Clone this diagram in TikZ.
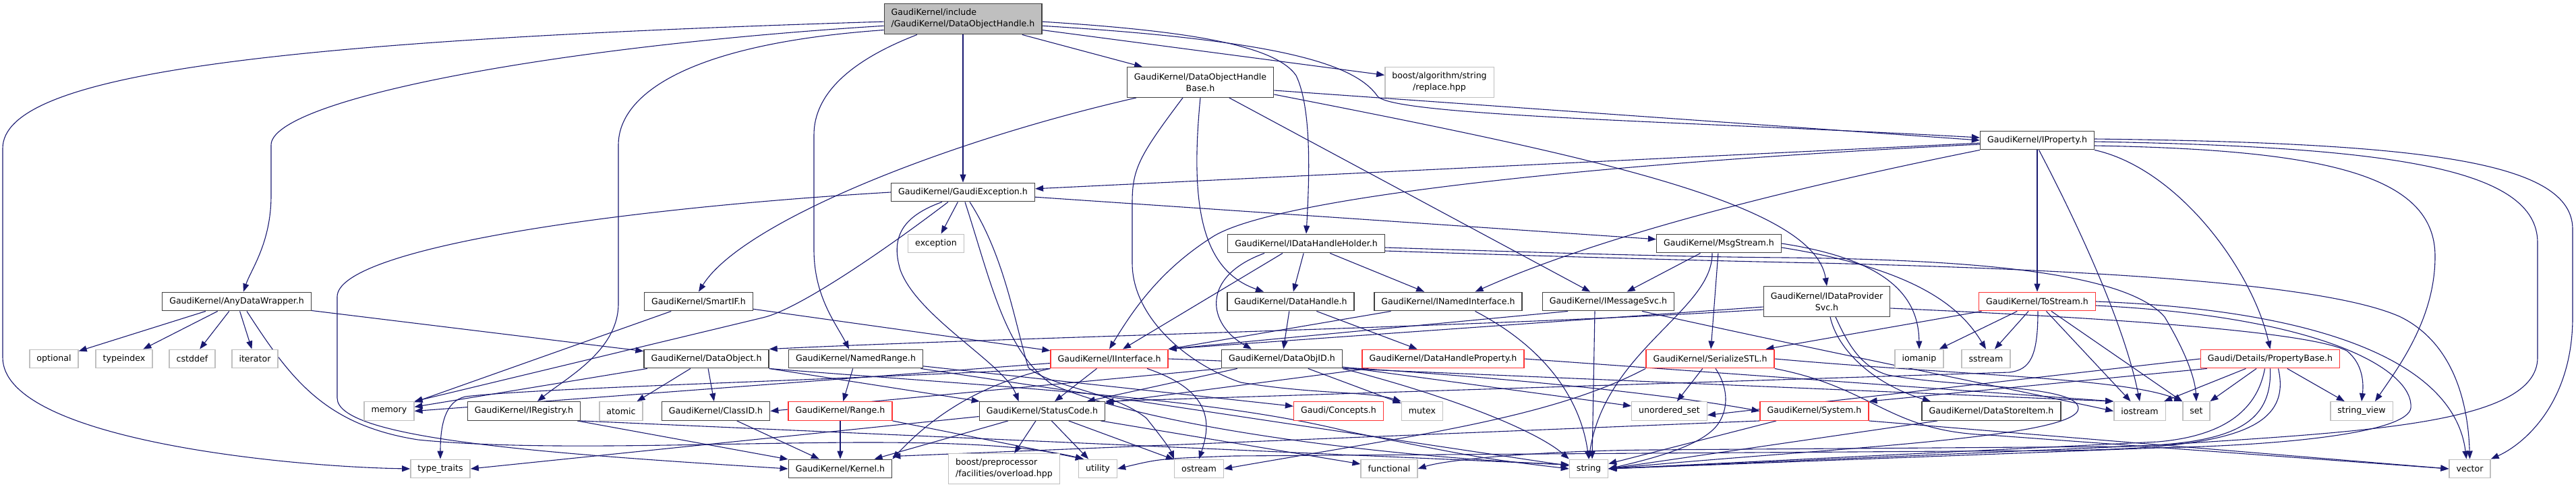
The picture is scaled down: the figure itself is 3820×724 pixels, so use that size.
\documentclass[tikz,border=0pt]{standalone}
\usepackage{fontspec}
\setmainfont{DejaVu Sans}
\usetikzlibrary{arrows.meta, backgrounds, positioning}
\definecolor{inclblue}{HTML}{191970}
\definecolor{sysgray}{HTML}{BFBFBF}
\definecolor{trunred}{HTML}{FF3333}

\begin{document}
\begin{tikzpicture}[
      x=1pt, y=-1pt,
      filenode/.style={rectangle, draw=black!75, fill=white, line width=1.4pt, inner xsep=10.5pt, inner ysep=2pt, minimum height=27.5pt, font=\fontsize{12.6}{17}\selectfont},
      rednode/.style={filenode, draw=trunred},
      sysnode/.style={filenode, draw=sysgray},
      rootnode/.style={filenode, fill=sysgray, align=left, minimum height=45.5pt},
      twoline/.style={align=center, minimum height=44.5pt},
      incl/.style={draw=inclblue, line width=1.1pt, -{Triangle[length=12pt, width=9pt]}},
      ]
      \useasboundingbox (0,0) rectangle (3820,724);

      %Nodes
      \node[rootnode]          (dohandle)   at (1428,28)     {GaudiKernel/include\\/GaudiKernel/DataObjectHandle.h};
      \node[filenode, twoline] (dohbase)    at (1780,122)    {GaudiKernel/DataObjectHandle\\Base.h};
      \node[sysnode, twoline]  (strreplace) at (2134.5,122)  {boost/algorithm/string\\/replace.hpp};
      \node[filenode]          (iproperty)  at (3021,208)    {GaudiKernel/IProperty.h};
      \node[filenode]          (gexcept)    at (1428,285)    {GaudiKernel/GaudiException.h};
      \node[sysnode]           (exception)  at (1388,361)    {exception};
      \node[filenode]          (idhholder)  at (1937,361)    {GaudiKernel/IDataHandleHolder.h};
      \node[filenode]          (msgstream)  at (2549,361)    {GaudiKernel/MsgStream.h};
      \node[filenode]          (anywrap)    at (351,447)     {GaudiKernel/AnyDataWrapper.h};
      \node[filenode]          (smartif)    at (1036,447)    {GaudiKernel/SmartIF.h};
      \node[filenode]          (datahandle) at (1914,447)    {GaudiKernel/DataHandle.h};
      \node[filenode]          (inamedif)   at (2147.5,447)  {GaudiKernel/INamedInterface.h};
      \node[filenode]          (imsgsvc)    at (2385,447)    {GaudiKernel/IMessageSvc.h};
      \node[filenode, twoline] (idpsvc)     at (2709,447)    {GaudiKernel/IDataProvider\\Svc.h};
      \node[rednode]           (tostream)   at (3021,447)    {GaudiKernel/ToStream.h};

      \node[sysnode]           (optional)   at (80,532)      {optional};
      \node[sysnode]           (typeindex)  at (184,532)     {typeindex};
      \node[sysnode]           (cstddef)    at (285,532)     {cstddef};
      \node[sysnode]           (iterator)   at (378,532)     {iterator};
      \node[filenode]          (dataobj)    at (1047.5,532)  {GaudiKernel/DataObject.h};
      \node[filenode]          (namedrange) at (1269,532)    {GaudiKernel/NamedRange.h};
      \node[rednode]           (iinterface) at (1645,532)    {GaudiKernel/IInterface.h};
      \node[filenode]          (dataobjid)  at (1901,532)    {GaudiKernel/DataObjID.h};
      \node[rednode]           (dhprop)     at (2140,532)    {GaudiKernel/DataHandleProperty.h};
      \node[rednode]           (serialstl)  at (2536,532)    {GaudiKernel/SerializeSTL.h};
      \node[sysnode]           (iomanip)    at (2846,532)    {iomanip};
      \node[sysnode]           (sstream)    at (2945,532)    {sstream};
      \node[rednode]           (propbase)   at (3366.5,532)  {Gaudi/Details/PropertyBase.h};

      \node[sysnode]           (memory)     at (577,609.5)   {memory};
      \node[filenode]          (iregistry)  at (777,609.5)   {GaudiKernel/IRegistry.h};
      \node[sysnode]           (atomic)     at (921,609.5)   {atomic};
      \node[filenode]          (classid)    at (1061.5,609.5) {GaudiKernel/ClassID.h};
      \node[rednode]           (range)      at (1246,609.5)  {GaudiKernel/Range.h};
      \node[filenode]          (statuscode) at (1545.5,609.5) {GaudiKernel/StatusCode.h};
      \node[rednode]           (concepts)   at (1985,609.5)  {Gaudi/Concepts.h};
      \node[sysnode]           (mutex)      at (2109,609.5)  {mutex};
      \node[sysnode]           (uset)       at (2475.5,609.5) {unordered\_set};
      \node[rednode]           (system)     at (2690.5,609.5) {GaudiKernel/System.h};
      \node[filenode]          (dsitem)     at (2953,609.5)  {GaudiKernel/DataStoreItem.h};
      \node[sysnode]           (iostream)   at (3173,609.5)  {iostream};
      \node[sysnode]           (set)        at (3257,609.5)  {set};
      \node[sysnode]           (strview)    at (3502,609.5)  {string\_view};

      \node[sysnode]           (typetraits) at (653,695)     {type\_traits};
      \node[filenode]          (kernel)     at (1246,695)    {GaudiKernel/Kernel.h};
      \node[sysnode, align=left, minimum height=44.5pt] (ppoverload) at (1489,695) {boost/preprocessor\\/facilities/overload.hpp};
      \node[sysnode]           (utility)    at (1628,695)    {utility};
      \node[sysnode]           (ostream)    at (1778,695)    {ostream};
      \node[sysnode]           (functional) at (2060,695)    {functional};
      \node[sysnode]           (string)     at (2356,695)    {string};
      \node[sysnode]           (vector)     at (3662.5,695)  {vector};

      %Lines
      \begin{scope}[on background layer]
      % DataObjectHandle.h
      \draw[incl] (dohandle.182) .. controls (400,60) and (4,110) .. (4,220) -- (4,530) .. controls (4,650) and (420,692) .. (typetraits.west);
      \draw[incl] (dohandle.185) .. controls (800,70) and (402,150) .. (402,215) -- (402,290) .. controls (402,360) and (372,400) .. ([xshift=10pt]anywrap.north);
      \draw[incl] (dohandle.188) .. controls (1020,65) and (917,140) .. (917,215) -- (917,450) .. controls (917,520) and (840,560) .. ([xshift=20pt]iregistry.north);
      \draw[incl] (dohandle.-161) .. controls (1260,90) and (1207,140) .. (1207,200) -- (1207,370) .. controls (1207,440) and (1240,480) .. ([xshift=-10pt]namedrange.north);
      \draw[incl] (dohandle) -- (gexcept);
      \draw[incl] (dohandle) -- (dohbase);
      \draw[incl] (dohandle.-8) -- (strreplace);
      \draw[incl] (dohandle.-2) .. controls (1750,45) and (1890,65) .. (1922,112) .. controls (1945,160) and (1942,260) .. (idhholder.north);
      \draw[incl] (dohandle.-5) .. controls (1900,60) and (2010,95) .. (2043,143) .. controls (2070,172) and (2500,180) .. ([yshift=4pt]iproperty.west);

      % AnyDataWrapper.h
      \draw[incl] (anywrap) -- (optional);
      \draw[incl] (anywrap) -- (typeindex);
      \draw[incl] (anywrap) -- (cstddef);
      \draw[incl] (anywrap) -- (iterator);
      \draw[incl] (anywrap) -- (dataobj);
      \draw[incl] ([xshift=15pt]anywrap.south) .. controls (430,560) and (480,630) .. (620,652) .. controls (900,680) and (1400,630) .. ([xshift=8pt]utility.north west);

      % DataObjectHandleBase.h
      \draw[incl] ([xshift=-95pt]dohbase.south) .. controls (1400,210) and (1100,330) .. (smartif.north);
      \draw[incl] ([xshift=-26pt]dohbase.south) .. controls (1690,230) and (1679,250) .. (1679,300) -- (1679,390) .. controls (1679,470) and (1760,540) .. (1840,567) .. controls (1950,585) and (2030,580) .. (mutex.north west);
      \draw[incl] (dohbase.south) .. controls (1765,300) and (1780,400) .. ([xshift=-40pt]datahandle.north);
      \draw[incl] (dohbase) -- (imsgsvc);
      \draw[incl] ([yshift=-12pt]dohbase.east) -- (iproperty.west);
      \draw[incl] ([yshift=-18pt]dohbase.east) .. controls (2350,230) and (2690,300) .. (idpsvc.north);

      % GaudiException.h
      \draw[incl] (gexcept) -- (exception);
      \draw[incl] ([xshift=-31pt]gexcept.south) .. controls (1340,320) and (1320,350) .. (1335,400) .. controls (1360,470) and (1490,540) .. ([xshift=-35pt]statuscode.north);
      \draw[incl] ([xshift=-22pt]gexcept.south) .. controls (1300,380) and (1180,460) .. (1131,471) -- (memory.north east);
      \draw[incl] (gexcept.west) .. controls (900,310) and (500,370) .. (500,440) -- (500,590) .. controls (500,650) and (800,672) .. (kernel.west);
      \draw[incl] (gexcept) -- (msgstream);
      \draw[incl] ([xshift=3pt]gexcept.south) .. controls (1470,420) and (1490,520) .. (1560,570) .. controls (1720,640) and (2100,680) .. ([yshift=6pt]string.west);
      \draw[incl] ([xshift=10pt]gexcept.south) .. controls (1490,380) and (1505,480) .. (1525,545) .. controls (1560,575) and (1650,580) .. (1700,620) .. controls (1720,645) and (1735,665) .. (ostream.north west);

      % IProperty.h
      \draw[incl] (iproperty) -- (gexcept);
      \draw[incl] (iproperty.south west) .. controls (2600,290) and (2350,360) .. ([xshift=40pt]inamedif.north);
      \draw[incl] ([yshift=-6pt]iproperty.west) .. controls (2400,240) and (1900,290) .. (1800,350) .. controls (1720,400) and (1680,460) .. (iinterface.north);
      \draw[incl] (iproperty) -- (tostream);
      \draw[incl] (iproperty.-80) .. controls (3080,330) and (3150,480) .. (iostream.north);
      \draw[incl] (iproperty.south east) .. controls (3230,250) and (3340,400) .. (propbase.north);
      \draw[incl] ([yshift=-8pt]iproperty.east) .. controls (3450,222) and (3611,260) .. (3611,380) .. controls (3611,470) and (3560,540) .. ([xshift=20pt]strview.north);
      \draw[incl] ([yshift=2pt]iproperty.east) .. controls (3600,212) and (3815,240) .. (3815,340) -- (3815,470) .. controls (3815,600) and (3740,660) .. (vector.north east);
      \draw[incl] ([yshift=-2pt]iproperty.east) .. controls (3550,218) and (3763,250) .. (3763,360) -- (3763,530) .. controls (3763,630) and (3500,640) .. (3200,660) -- (string.east);

      % IDataHandleHolder.h
      \draw[incl] (idhholder) -- (datahandle);
      \draw[incl] (idhholder) -- (inamedif);
      \draw[incl] ([xshift=-35pt]idhholder.south) -- ([xshift=20pt]iinterface.north);
      \draw[incl] ([xshift=-62pt]idhholder.south) .. controls (1780,410) and (1790,480) .. ([xshift=-45pt]dataobjid.north);
      \draw[incl] ([yshift=-6pt]idhholder.east) .. controls (2300,375) and (2500,381) .. (2650,382) .. controls (2900,385) and (3150,400) .. (3210,470) .. controls (3240,520) and (3255,560) .. (set.north);
      \draw[incl] ([yshift=-11pt]idhholder.east) .. controls (2300,380) and (2500,386) .. (2700,390) .. controls (3100,400) and (3450,420) .. (3560,470) .. controls (3640,510) and (3660,600) .. (vector.north);

      % DataHandle.h, SmartIF.h, NamedRange.h
      \draw[incl] (datahandle) -- (dataobjid);
      \draw[incl] (datahandle) -- (dhprop);
      \draw[incl] (smartif) -- (memory);
      \draw[incl] (smartif) -- (iinterface);
      \draw[incl] (namedrange) -- (range);
      \draw[incl] (namedrange) -- (concepts);
      \draw[incl] (namedrange) -- (string);

      % DataObject.h
      \draw[incl] (dataobj) -- (memory);
      \draw[incl] (dataobj) -- (atomic);
      \draw[incl] (dataobj) -- (classid);
      \draw[incl] (dataobj) -- (statuscode);
      \draw[incl] (dataobj.south east) .. controls (1500,575) and (1800,590) .. (2000,640) .. controls (2200,680) .. (string.west);

      % IRegistry.h, ClassID.h, Range.h
      \draw[incl] (iregistry) -- (kernel);
      \draw[incl] (iregistry.south east) -- ([yshift=6pt]string.west);
      \draw[incl] (classid) -- (kernel);
      \draw[incl] (range) -- (kernel);
      \draw[incl] (range.south east) -- ([xshift=8pt]utility.north west);

      % IInterface.h
      \draw[incl] (iinterface) -- (statuscode);
      \draw[incl] (iinterface.south west) .. controls (1450,570) and (1380,620) .. (kernel.north east);
      \draw[incl] (iinterface) -- (memory.east);
      \draw[incl] (iinterface.south west) .. controls (1200,565) and (800,575) .. (690,588) .. controls (660,595) and (653,630) .. (typetraits.north);
      \draw[incl] ([xshift=56pt]iinterface.south) .. controls (1800,580) and (1795,630) .. (ostream.north);
      \draw[incl] (iinterface.east) .. controls (2100,545) and (2450,580) .. (system.west);

      % DataObjID.h
      \draw[incl] (dataobjid.south west) -- (classid.east);
      \draw[incl] (dataobjid) -- (statuscode);
      \draw[incl] (dataobjid) -- (mutex);
      \draw[incl] (dataobjid.south east) .. controls (2160,590) and (2280,640) .. (string.north west);
      \draw[incl] (dataobjid) -- (uset);
      \draw[incl] (dataobjid.south east) -- (iostream.north west);

      % DataHandleProperty.h
      \draw[incl] (dhprop) -- (statuscode);
      \draw[incl] (dhprop.east) -- (iostream.north west);

      % MsgStream.h
      \draw[incl] (msgstream) -- (imsgsvc);
      \draw[incl] (msgstream) -- (serialstl);
      \draw[incl] ([xshift=-10pt]msgstream.south) .. controls (2540,460) and (2380,520) .. (string.north);
      \draw[incl] (msgstream.east) .. controls (2800,385) and (2845,440) .. (iomanip.north);
      \draw[incl] ([yshift=-6pt]msgstream.east) .. controls (2850,400) and (2910,460) .. (sstream.north);

      % IMessageSvc.h, INamedInterface.h
      \draw[incl] ([xshift=-60pt]imsgsvc.south) -- (iinterface.north east);
      \draw[incl] ([xshift=-20pt]imsgsvc.south) -- ([xshift=5pt]string.north);
      \draw[incl] ([xshift=50pt]imsgsvc.south) .. controls (2700,520) and (2950,570) .. (iostream.west);
      \draw[incl] (inamedif) -- (iinterface.north east);
      \draw[incl] ([xshift=40pt]inamedif.south) .. controls (2300,520) and (2345,600) .. (string.north);

      % IDataProviderSvc.h
      \draw[incl] ([yshift=-8pt]idpsvc.west) -- (iinterface.north east);
      \draw[incl] ([yshift=-12pt]idpsvc.west) .. controls (2200,485) and (1500,500) .. (dataobj.north east);
      \draw[incl] ([xshift=5pt]idpsvc.south) .. controls (2725,520) and (2780,570) .. ([xshift=-90pt]dsitem.north);
      \draw[incl] ([xshift=13pt]idpsvc.south) .. controls (2740,510) and (2760,545) .. (2800,556) .. controls (2900,575) and (3080,570) .. (3082,605) .. controls (3084,650) and (2700,665) .. (string.east);
      \draw[incl] ([yshift=-10pt]idpsvc.east) .. controls (3100,470) and (3420,490) .. (3480,520) .. controls (3505,540) and (3505,570) .. (strview.north);

      % ToStream.h
      \draw[incl] (tostream) -- (serialstl);
      \draw[incl] (tostream) -- (iomanip);
      \draw[incl] (tostream) -- (sstream);
      \draw[incl] ([xshift=1pt]tostream.south) .. controls (3022,530) and (3010,548) .. (2980,552) -- (statuscode.north east);
      \draw[incl] (tostream) -- (iostream);
      \draw[incl] (tostream) -- (set);
      \draw[incl] (tostream.east) .. controls (3450,460) and (3640,540) .. ([xshift=-5pt]vector.north);
      \draw[incl] ([yshift=-6pt]tostream.east) .. controls (3450,470) and (3580,550) .. (3575,605) .. controls (3570,640) and (3400,660) .. (3200,664) -- (string.east);

      % SerializeSTL.h
      \draw[incl] (serialstl) -- (uset);
      \draw[incl] (serialstl.south west) .. controls (2300,620) and (2100,645) .. (ostream.east);
      \draw[incl] ([xshift=8pt]serialstl.south) .. controls (2560,570) and (2565,600) .. (2550,625) .. controls (2530,660) and (2450,680) .. (string.east);
      \draw[incl] (serialstl.south east) .. controls (2780,575) and (2800,640) .. (2950,645) -- (vector.west);
      \draw[incl] (serialstl.east) .. controls (2900,556) and (3150,560) .. (set.north west);

      % PropertyBase.h
      \draw[incl] ([xshift=10pt]propbase.south west) -- (system.north east);
      \draw[incl] (propbase.west) -- ([yshift=-6pt]uset.east);
      \draw[incl] (propbase) -- (iostream);
      \draw[incl] (propbase) -- (set);
      \draw[incl] (propbase) -- (strview);
      \draw[incl] ([xshift=-8pt]propbase.south) .. controls (3345,620) and (3280,648) .. (3200,655) -- (string.east);
      \draw[incl] (propbase.south) .. controls (3370,635) and (3300,658) .. (3150,662) -- (2450,667) .. controls (2300,668) and (2150,680) .. (functional.east);
      \draw[incl] ([xshift=12pt]propbase.south) .. controls (3400,640) and (3300,665) .. (3050,668) -- (1830,676) .. controls (1720,680) .. (utility.east);

      % System.h, DataStoreItem.h
      \draw[incl] (system) -- (string);
      \draw[incl] (system.south west) -- ([yshift=4pt]kernel.north east);
      \draw[incl] (system.south east) -- (vector.west);
      \draw[incl] ([xshift=-80pt]dsitem.south) -- (string.east);

      % StatusCode.h
      \draw[incl] (statuscode) -- (ppoverload);
      \draw[incl] (statuscode) -- (utility);
      \draw[incl] (statuscode) -- (kernel);
      \draw[incl] ([yshift=-8pt]statuscode.west) -- (typetraits.east);
      \draw[incl] (statuscode) -- (ostream);
      \draw[incl] (statuscode) -- (functional);
      \end{scope}
\end{tikzpicture}
\end{document}
